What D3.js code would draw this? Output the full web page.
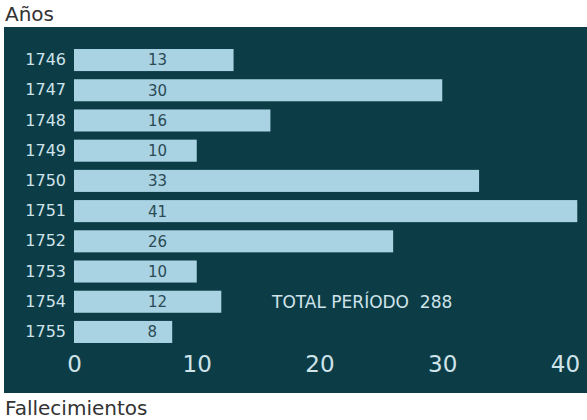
<!DOCTYPE html>
<html>
<head>
<meta charset="utf-8">
<script src="https://cdn.jsdelivr.net/npm/d3@7"></script>
<style>
  body { margin: 0; background: #ffffff; }
  svg { display: block; font-family: "DejaVu Sans", sans-serif; }
</style>
</head>
<body>
<div class="chart"></div>
<script>
"use strict";

// Data
var years = ["1746", "1747", "1748", "1749", "1750", "1751", "1752", "1753", "1754", "1755"];
var deaths = [13, 30, 16, 10, 33, 41, 26, 10, 12, 8];
var xTicks = [0, 10, 20, 30, 40];
var totalLabel = "TOTAL PERÍODO  288";

var width = 587;
var height = 420;

// Colors
var panelColor = "#0c3c46";
var barColor = "#a9d3e2";
var barTextColor = "#2b4a55";
var lightText = "#cfe3ea";
var titleColor = "#333333";

var svg = d3.select(".chart").append("svg")
    .attr("width", width)
    .attr("height", height);

// Dark panel
svg.append("rect")
    .attr("x", 4)
    .attr("y", 27)
    .attr("width", width - 4)
    .attr("height", 366)
    .style("fill", panelColor);

// Scales
var x = d3.scaleLinear().domain([0, 40]).range([74, 565]);
var y = d3.scaleBand().domain(years).range([46, 346]).paddingInner(0.27).paddingOuter(0.1);

// Bars
svg.selectAll(".bar")
    .data(years)
    .enter().append("rect")
    .attr("class", "bar")
    .attr("x", x(0))
    .attr("y", function (d) { return y(d); })
    .attr("width", function (d, i) { return x(deaths[i]) - x(0); })
    .attr("height", y.bandwidth())
    .style("fill", barColor);

// Values inside bars
svg.selectAll(".val")
    .data(years)
    .enter().append("text")
    .attr("class", "val")
    .attr("x", function (d, i) { return Math.min(x(6.8), x(deaths[i]) - 20); })
    .attr("y", function (d) { return y(d) + y.bandwidth() / 2; })
    .attr("dy", "0.36em")
    .attr("text-anchor", "middle")
    .style("font-size", "15px")
    .style("fill", barTextColor)
    .text(function (d, i) { return deaths[i]; });

// Year axis
var yAxis = svg.append("g")
    .attr("transform", "translate(" + (x(0) - 6) + ",0)")
    .call(d3.axisLeft(y).tickSize(0).tickPadding(2));
yAxis.select(".domain").remove();
yAxis.selectAll("text")
    .style("font-size", "16px")
    .style("font-family", "\"DejaVu Sans\", sans-serif")
    .style("fill", lightText);

// Value axis
var xAxis = svg.append("g")
    .attr("transform", "translate(0,354)")
    .call(d3.axisBottom(x).tickValues(xTicks).tickSize(0).tickPadding(2));
xAxis.select(".domain").remove();
xAxis.selectAll("text")
    .style("font-size", "23px")
    .style("font-family", "\"DejaVu Sans\", sans-serif")
    .style("fill", lightText);

// Total
svg.append("text")
    .attr("x", 272)
    .attr("y", 308)
    .style("font-size", "17px")
    .style("fill", lightText)
    .style("white-space", "pre")
    .text(totalLabel);

// Titles
svg.append("text")
    .attr("x", 5)
    .attr("y", 21)
    .style("font-size", "20px")
    .style("fill", titleColor)
    .text("Años");

svg.append("text")
    .attr("x", 5)
    .attr("y", 415)
    .style("font-size", "20px")
    .style("fill", titleColor)
    .text("Fallecimientos");
</script>
</body>
</html>
